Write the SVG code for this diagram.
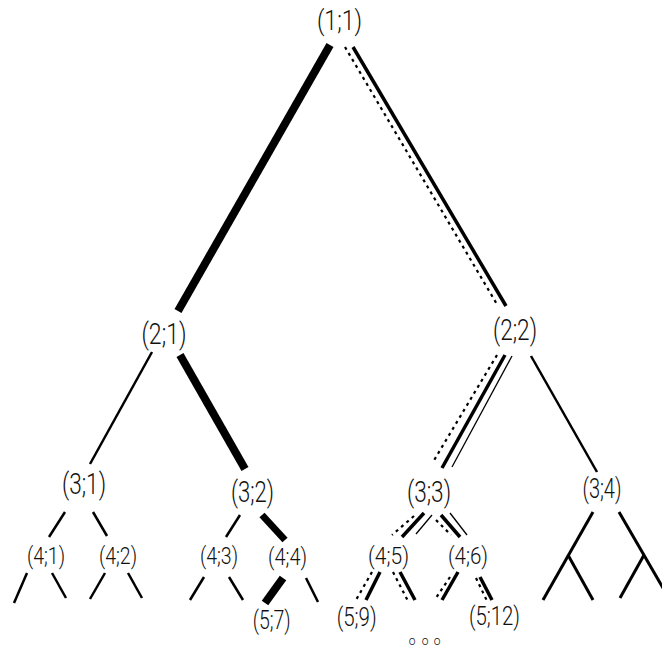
<svg xmlns="http://www.w3.org/2000/svg" width="662" height="649" viewBox="0 0 662 649">
<style>
text{font-family:Roboto,"Liberation Sans",Arial,sans-serif;font-weight:300;fill:#111;text-anchor:middle}
.l1{font-size:27px}.l2{font-size:30px}.l3{font-size:29px}.l4{font-size:24px}.l5{font-size:26px}
line{stroke:#000;stroke-linecap:butt}
.th{stroke-width:2.5}
.tk{stroke-width:8}
.md{stroke-width:3.5}
.tn{stroke-width:1.3}
.dt{stroke-width:2.2;stroke-dasharray:3 4}
</style>
<rect width="662" height="649" fill="#fff"/>
<g id="connectors">
<line class="tk" x1="330" y1="45" x2="178" y2="311"/>
<line class="md" x1="353" y1="47" x2="506" y2="306"/>
<line class="dt" x1="345" y1="47" x2="498" y2="306"/>
<line class="th" x1="152" y1="352" x2="90" y2="464"/>
<line class="tk" x1="180" y1="355" x2="245" y2="469"/>
<line class="md" x1="505" y1="355" x2="442" y2="468"/>
<line class="dt" x1="497" y1="355" x2="433" y2="462"/>
<line class="tn" x1="512" y1="356" x2="452" y2="467"/>
<line class="th" x1="531" y1="356" x2="597" y2="472"/>
<line class="th" x1="65" y1="512" x2="49" y2="537"/>
<line class="th" x1="93" y1="512" x2="107" y2="536"/>
<line class="th" x1="27" y1="573" x2="14" y2="603"/>
<line class="th" x1="52" y1="573" x2="66" y2="598"/>
<line class="th" x1="105" y1="573" x2="90" y2="599"/>
<line class="th" x1="128" y1="573" x2="142" y2="598"/>
<line class="th" x1="240" y1="515" x2="226" y2="537"/>
<line style="stroke-width:7" x1="262" y1="515" x2="285" y2="540"/>
<line class="th" x1="204" y1="577" x2="190" y2="600"/>
<line class="th" x1="229" y1="577" x2="243" y2="600"/>
<line class="tk" x1="283" y1="578" x2="265" y2="603"/>
<line class="th" x1="306" y1="578" x2="318" y2="602"/>
<line class="md" x1="424" y1="513" x2="402" y2="537"/>
<line class="dt" x1="414" y1="516" x2="392" y2="535"/>
<line class="tn" x1="432" y1="515" x2="416" y2="534"/>
<line class="md" x1="441" y1="515" x2="460" y2="537"/>
<line class="dt" x1="436" y1="520" x2="451" y2="535"/>
<line class="tn" x1="450" y1="513" x2="467" y2="535"/>
<line class="md" x1="380" y1="572" x2="366" y2="600"/>
<line class="dt" x1="372" y1="572" x2="356" y2="600"/>
<line class="md" x1="400" y1="572" x2="415" y2="600"/>
<line class="dt" x1="393" y1="572" x2="409" y2="603"/>
<line class="md" x1="458" y1="572" x2="442" y2="600"/>
<line class="dt" x1="450" y1="577" x2="436" y2="598"/>
<line class="md" x1="480" y1="577" x2="492" y2="600"/>
<line class="dt" x1="476" y1="578" x2="488" y2="603"/>
<line style="stroke-width:3" x1="593" y1="512" x2="543" y2="600"/>
<line style="stroke-width:3" x1="568" y1="555" x2="593" y2="600"/>
<line style="stroke-width:3" x1="619" y1="512" x2="670" y2="600"/>
<line style="stroke-width:3" x1="644" y1="555" x2="620" y2="598"/>
</g>
<g id="n11"><text class="l1" x="339.5" y="30" textLength="45" lengthAdjust="spacingAndGlyphs">(1;1)</text></g>
<g id="n21"><text class="l2" x="164" y="344" textLength="45" lengthAdjust="spacingAndGlyphs">(2;1)</text></g>
<g id="n22"><text class="l2" x="515" y="340" textLength="44" lengthAdjust="spacingAndGlyphs">(2;2)</text></g>
<g id="n31"><text class="l3" x="84" y="494" textLength="44" lengthAdjust="spacingAndGlyphs">(3;1)</text></g>
<g id="n32"><text class="l3" x="252.5" y="502" textLength="43" lengthAdjust="spacingAndGlyphs">(3;2)</text></g>
<g id="n33"><text class="l3" x="429" y="502" textLength="44" lengthAdjust="spacingAndGlyphs">(3;3)</text></g>
<g id="n34"><text class="l1" x="602" y="498" textLength="39" lengthAdjust="spacingAndGlyphs">(3;4)</text></g>
<g id="n41"><text class="l4" x="46" y="563.5" textLength="38" lengthAdjust="spacingAndGlyphs">(4;1)</text></g>
<g id="n42"><text class="l4" x="118" y="563.5" textLength="38" lengthAdjust="spacingAndGlyphs">(4;2)</text></g>
<g id="n43"><text class="l4" x="219" y="564" textLength="38" lengthAdjust="spacingAndGlyphs">(4;3)</text></g>
<g id="n44"><text class="l4" x="287.5" y="564.5" textLength="39" lengthAdjust="spacingAndGlyphs">(4;4)</text></g>
<g id="n45"><text class="l4" x="388.5" y="563.5" textLength="41" lengthAdjust="spacingAndGlyphs">(4;5)</text></g>
<g id="n46"><text class="l4" x="468" y="563.5" textLength="40" lengthAdjust="spacingAndGlyphs">(4;6)</text></g>
<g id="n57"><text class="l5" x="271.7" y="629" textLength="38" lengthAdjust="spacingAndGlyphs">(5;7)</text></g>
<g id="n59"><text class="l5" x="356.7" y="626" textLength="40" lengthAdjust="spacingAndGlyphs">(5;9)</text></g>
<g id="n512"><text class="l5" x="494.5" y="625" textLength="51" lengthAdjust="spacingAndGlyphs">(5;12)</text></g>
<g id="dots"><text x="412 425 437" y="645" style="font-size:12px">ooo</text></g>
</svg>
